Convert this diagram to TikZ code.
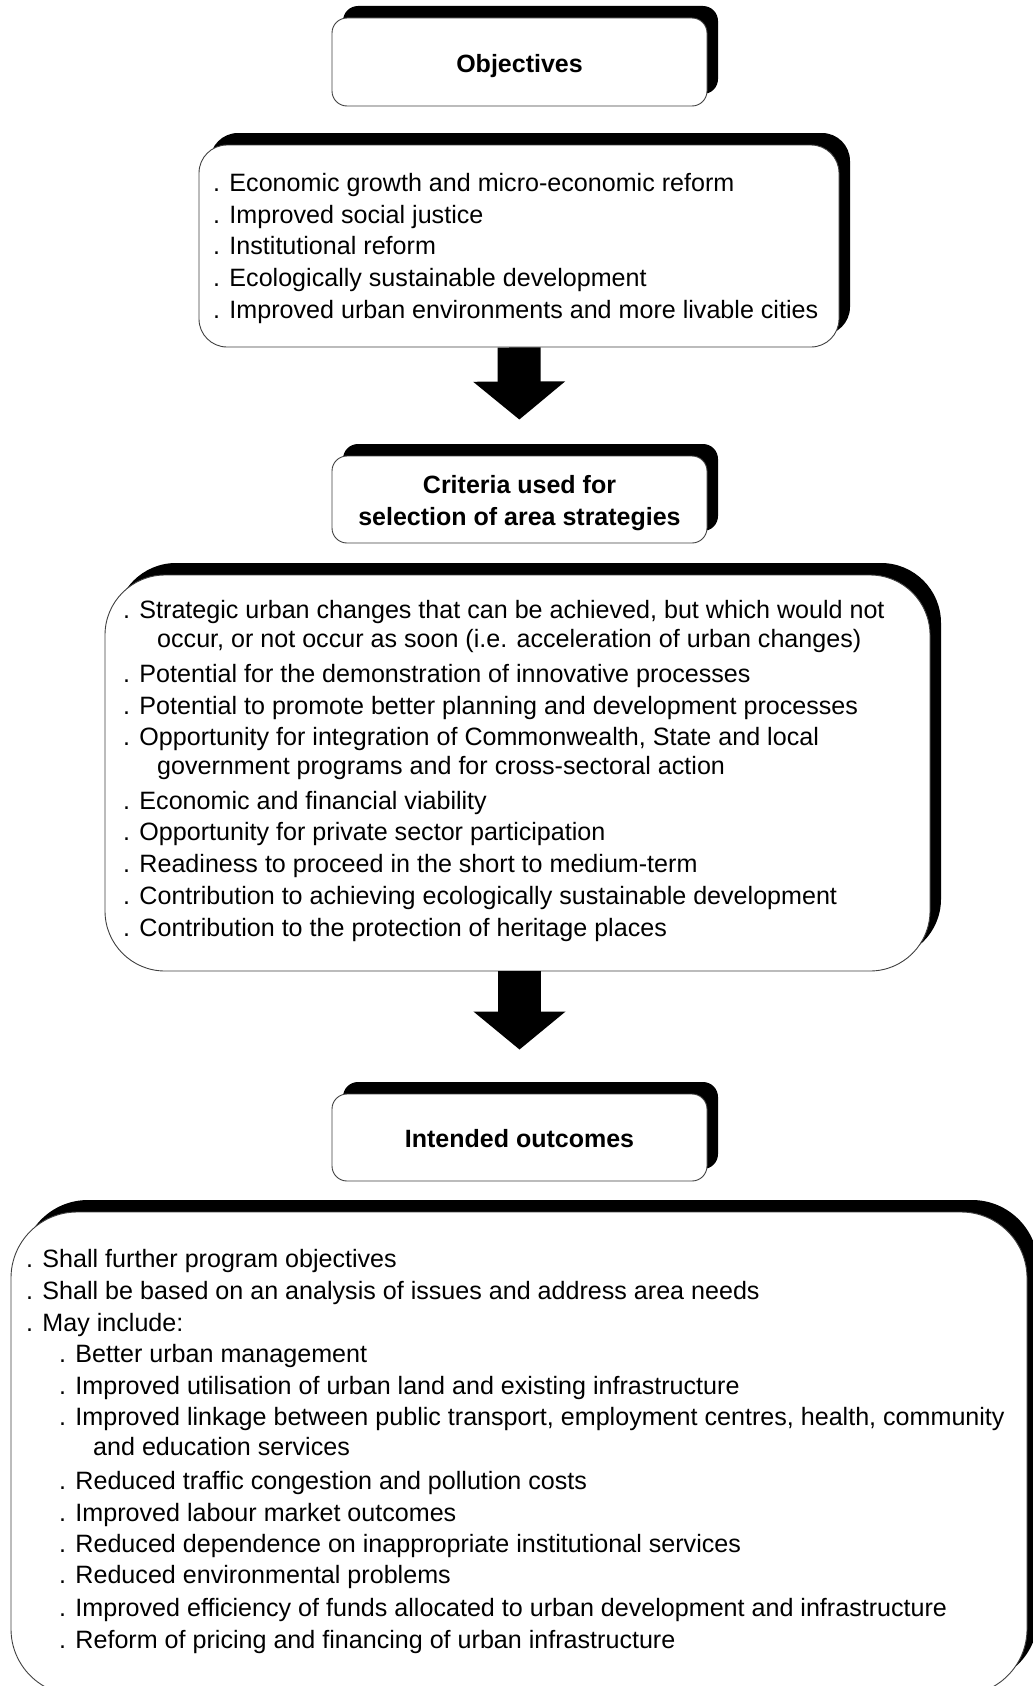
\documentclass[tikz,border=0pt]{standalone}
\usepackage{fontspec}
\setmainfont{Liberation Sans}
\usetikzlibrary{shadows,arrows.meta}

\tikzset{
  shadowbox/.style={draw=black!75, line width=0.9pt, fill=white,
    drop shadow={shadow xshift=11pt, shadow yshift=12pt, opacity=1, fill=black}},
  titlebox/.style={shadowbox, rounded corners=15pt, minimum width=375pt,
    minimum height=88pt, inner sep=0pt},
  titletext/.style={anchor=base, inner sep=0pt, font=\fontsize{25}{32}\selectfont\bfseries},
  listline/.style={anchor=base west, inner sep=0pt, font=\fontsize{25.1}{32}\selectfont},
  blockarrow/.style={line width=43pt, -{Triangle[width=90pt, length=38pt]}}
}

\begin{document}
\begin{tikzpicture}[x=1pt, y=-1pt]
\useasboundingbox (0,0) rectangle (1033,1686);

% objectives
\node[titlebox] (objectives) at (519.5,62) {};
\node[titletext] (objtitle) at (519.5,72.5) {Objectives};
\node[shadowbox, rounded corners=28pt, minimum width=640pt, minimum height=202pt]
  (objbox) at (519,246) {};
\node[listline] (o1) at (213,191) {. Economic growth and micro-economic reform};
\node[listline] (o2) at (213,223) {. Improved social justice};
\node[listline] (o3) at (213,254.6) {. Institutional reform};
\node[listline] (o4) at (213,286.4) {. Ecologically sustainable development};
\node[listline] (o5) at (213,318.2) {. Improved urban environments and more livable cities};

% selection criteria
\node[titlebox, minimum height=87pt] (criteria) at (519.5,499.5) {};
\node[titletext] (crittitle1) at (519.5,493) {Criteria used for};
\node[titletext] (crittitle2) at (519.5,525.4) {selection of area strategies};
\node[shadowbox, rounded corners=60pt, minimum width=825pt, minimum height=396pt]
  (critbox) at (517.5,773) {};
\node[listline] (c1) at (123,618.5) {. Strategic urban changes that can be achieved, but which would not};
\node[listline] (c1b) at (157,647.5) {occur, or not occur as soon (i.e. acceleration of urban changes)};
\node[listline] (c2) at (123,682) {. Potential for the demonstration of innovative processes};
\node[listline] (c3) at (123,714) {. Potential to promote better planning and development processes};
\node[listline] (c4) at (123,745) {. Opportunity for integration of Commonwealth, State and local};
\node[listline] (c4b) at (157,774) {government programs and for cross-sectoral action};
\node[listline] (c5) at (123,809) {. Economic and financial viability};
\node[listline] (c6) at (123,840) {. Opportunity for private sector participation};
\node[listline] (c7) at (123,872) {. Readiness to proceed in the short to medium-term};
\node[listline] (c8) at (123,904) {. Contribution to achieving ecologically sustainable development};
\node[listline] (c9) at (123,936) {. Contribution to the protection of heritage places};

% intended outcomes
\node[titlebox, minimum height=87pt] (outcomes) at (519.5,1137.5) {};
\node[titletext] (outtitle) at (519.5,1147.7) {Intended outcomes};
\node[shadowbox, rounded corners=66pt, minimum width=1016pt, minimum height=483pt]
  (outbox) at (519,1453.5) {};
\node[listline] (r1) at (26,1267.7) {. Shall further program objectives};
\node[listline] (r2) at (26,1299.9) {. Shall be based on an analysis of issues and address area needs};
\node[listline] (r3) at (26,1331.1) {. May include:};
\node[listline] (r4) at (59,1362.3) {. Better urban management};
\node[listline] (r5) at (59,1394.5) {. Improved utilisation of urban land and existing infrastructure};
\node[listline] (r6) at (59,1425.7) {. Improved linkage between public transport, employment centres, health, community};
\node[listline] (r6b) at (93,1455.8) {and education services};
\node[listline] (r7) at (59,1489.1) {. Reduced traffic congestion and pollution costs};
\node[listline] (r8) at (59,1521.4) {. Improved labour market outcomes};
\node[listline] (r9) at (59,1552.5) {. Reduced dependence on inappropriate institutional services};
\node[listline] (r10) at (59,1583.7) {. Reduced environmental problems};
\node[listline] (r11) at (59,1616) {. Improved efficiency of funds allocated to urban development and infrastructure};
\node[listline] (r12) at (59,1648.2) {. Reform of pricing and financing of urban infrastructure};

% block arrows between the stages
\draw[blockarrow, shorten >=36pt] (objbox.south) -- (criteria.north);
\draw[blockarrow, shorten >=44pt] (critbox.south -| outcomes.north) -- (outcomes.north);
\end{tikzpicture}
\end{document}
